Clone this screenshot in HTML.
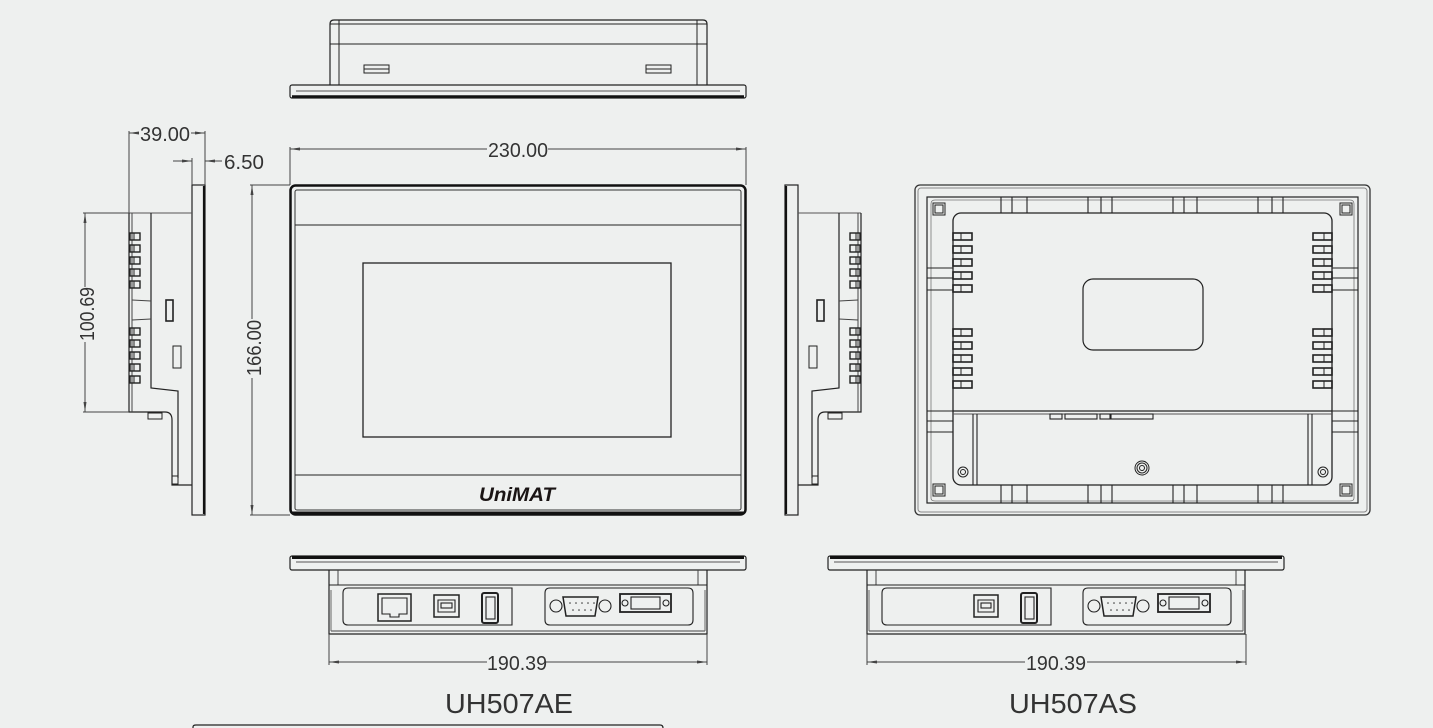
<!DOCTYPE html>
<html><head><meta charset="utf-8"><style>
html,body{margin:0;padding:0;background:#eef0ef;}
svg{display:block;}
text{font-family:"Liberation Sans",sans-serif;fill:#333;}
</style></head><body>
<svg width="1433" height="728" viewBox="0 0 1433 728" xmlns="http://www.w3.org/2000/svg">
<defs>
<marker id="ar" viewBox="0 0 10 6" refX="10" refY="3" markerWidth="10" markerHeight="6" orient="auto-start-reverse" markerUnits="userSpaceOnUse"><path d="M0,1.5 L10,3 L0,4.5z" fill="#444"/></marker>
<g id="vent"><rect x="0" y="0" width="10" height="7" fill="none" stroke="#222" stroke-width="1.4"/><line x1="4" y1="0" x2="4" y2="7" stroke="#222"/></g>
<g id="vent2"><rect x="0" y="0" width="19" height="7" fill="none" stroke="#222" stroke-width="1.6"/><line x1="8" y1="0" x2="8" y2="7" stroke="#222"/></g>
<g id="side">
 <rect x="192" y="185" width="13" height="330" fill="none" stroke="#222" stroke-width="1.2"/>
 <line x1="204" y1="186" x2="204" y2="514" stroke="#111" stroke-width="2.2"/>
 <line x1="129" y1="213" x2="192" y2="213" stroke="#555"/>
 <path d="M129,213 V412 H165 Q172,412 172,420 V485 H192" fill="none" stroke="#222" stroke-width="1.2"/>
 <path d="M151,213 V388 L178,391 V478" fill="none" stroke="#222" stroke-width="1.2"/>
 <line x1="132" y1="213" x2="132" y2="412" stroke="#444"/>
 <line x1="132" y1="300" x2="151" y2="301" stroke="#444"/>
 <line x1="132" y1="320" x2="151" y2="319" stroke="#444"/>
 <use href="#vent" x="130" y="233"/><use href="#vent" x="130" y="245"/><use href="#vent" x="130" y="257"/><use href="#vent" x="130" y="269"/><use href="#vent" x="130" y="281"/>
 <use href="#vent" x="130" y="328"/><use href="#vent" x="130" y="340"/><use href="#vent" x="130" y="352"/><use href="#vent" x="130" y="364"/><use href="#vent" x="130" y="376"/>
 <rect x="166" y="300" width="7" height="21" fill="none" stroke="#222" stroke-width="1.6"/>
 <rect x="173" y="346" width="8" height="22" fill="none" stroke="#222"/>
 <rect x="148" y="413" width="14" height="6" fill="none" stroke="#222"/>
 <rect x="172" y="476" width="6" height="8" fill="none" stroke="#222"/>
</g>
<g id="bot">
 <rect x="290" y="556" width="456" height="14" rx="2" fill="none" stroke="#222" stroke-width="1.2"/>
 <line x1="292" y1="557.5" x2="744" y2="557.5" stroke="#111" stroke-width="3"/>
 <line x1="296" y1="562" x2="740" y2="562" stroke="#555"/>
 <path d="M329,570 V634 H707 V570" fill="none" stroke="#222" stroke-width="1.2"/>
 <line x1="338" y1="570" x2="338" y2="585" stroke="#444"/><line x1="698" y1="570" x2="698" y2="585" stroke="#444"/>
 <line x1="329" y1="585" x2="707" y2="585" stroke="#222"/>
 <line x1="331" y1="631" x2="705" y2="631" stroke="#444"/>
 <line x1="331" y1="590" x2="331" y2="631" stroke="#666"/><line x1="705" y1="590" x2="705" y2="631" stroke="#666"/>
</g>
</defs>

<!-- TOP VIEW -->
<path d="M330,85 V24 Q330,20 334,20 H703 Q707,20 707,24 V85" fill="none" stroke="#222" stroke-width="1.2"/>
<line x1="339" y1="20" x2="339" y2="85" stroke="#222"/><line x1="697" y1="20" x2="697" y2="85" stroke="#222"/>
<line x1="330" y1="24" x2="707" y2="24" stroke="#222"/>
<line x1="330" y1="44" x2="707" y2="44" stroke="#222"/>
<rect x="364" y="65" width="25" height="8" fill="none" stroke="#222"/><line x1="364" y1="69" x2="389" y2="69" stroke="#222"/>
<rect x="646" y="65" width="25" height="8" fill="none" stroke="#222"/><line x1="646" y1="69" x2="671" y2="69" stroke="#222"/>
<rect x="290" y="85" width="456" height="13" rx="2" fill="none" stroke="#222" stroke-width="1.2"/>
<line x1="296" y1="91" x2="740" y2="91" stroke="#555"/>
<line x1="292" y1="96.5" x2="744" y2="96.5" stroke="#111" stroke-width="2.5"/>

<!-- LEFT SIDE VIEW -->
<use href="#side"/>
<line x1="129" y1="131" x2="129" y2="213" stroke="#444"/>
<line x1="205" y1="131" x2="205" y2="185" stroke="#444"/>
<line x1="192" y1="158" x2="192" y2="185" stroke="#444"/>
<line x1="129" y1="133" x2="139" y2="133" stroke="#444" marker-start="url(#ar)"/>
<line x1="191" y1="133" x2="205" y2="133" stroke="#444" marker-end="url(#ar)"/>
<text x="165" y="141" font-size="20" text-anchor="middle" textLength="50" lengthAdjust="spacingAndGlyphs">39.00</text>
<line x1="173" y1="161" x2="192" y2="161" stroke="#444" marker-end="url(#ar)"/>
<line x1="222" y1="161" x2="205" y2="161" stroke="#444" marker-end="url(#ar)"/>
<text x="224" y="169" font-size="20" textLength="40" lengthAdjust="spacingAndGlyphs">6.50</text>
<line x1="83" y1="213" x2="129" y2="213" stroke="#444"/><line x1="83" y1="412" x2="129" y2="412" stroke="#444"/>
<line x1="85" y1="213" x2="85" y2="287" stroke="#444" marker-start="url(#ar)"/>
<line x1="85" y1="342" x2="85" y2="412" stroke="#444" marker-end="url(#ar)"/>
<text transform="translate(94,314) rotate(-90)" font-size="20" text-anchor="middle" textLength="54" lengthAdjust="spacingAndGlyphs">100.69</text>
<line x1="250" y1="185" x2="290" y2="185" stroke="#444"/><line x1="250" y1="515" x2="290" y2="515" stroke="#444"/>
<line x1="252" y1="185" x2="252" y2="319" stroke="#444" marker-start="url(#ar)"/>
<line x1="252" y1="378" x2="252" y2="515" stroke="#444" marker-end="url(#ar)"/>
<text transform="translate(261,348) rotate(-90)" font-size="20" text-anchor="middle" textLength="56" lengthAdjust="spacingAndGlyphs">166.00</text>
<line x1="290" y1="147" x2="290" y2="185" stroke="#444"/><line x1="746" y1="147" x2="746" y2="185" stroke="#444"/>
<line x1="290" y1="149" x2="487" y2="149" stroke="#444" marker-start="url(#ar)"/>
<line x1="548" y1="149" x2="746" y2="149" stroke="#444" marker-end="url(#ar)"/>
<text x="518" y="157" font-size="20" text-anchor="middle" textLength="60" lengthAdjust="spacingAndGlyphs">230.00</text>

<!-- FRONT -->
<rect x="290.5" y="185.5" width="455" height="329" rx="5" fill="none" stroke="#111" stroke-width="2.5"/>
<rect x="295" y="190" width="446" height="320" rx="2" fill="none" stroke="#333"/>
<line x1="295" y1="225" x2="741" y2="225" stroke="#222"/>
<line x1="295" y1="475" x2="741" y2="475" stroke="#222"/>
<line x1="292" y1="513" x2="744" y2="513" stroke="#111" stroke-width="3"/>
<rect x="363" y="263" width="308" height="174" fill="none" stroke="#222" stroke-width="1.3"/>
<text x="517" y="501" font-size="19" font-weight="bold" font-style="italic" text-anchor="middle" style="fill:#1a1414" textLength="76" lengthAdjust="spacingAndGlyphs">UniMAT</text>

<!-- RIGHT SIDE VIEW -->
<g transform="translate(990,0) scale(-1,1)"><use href="#side"/></g>

<!-- REAR -->
<rect x="915" y="185" width="455" height="330" rx="5" fill="none" stroke="#333" stroke-width="1.3"/>
<rect x="918" y="188" width="449" height="324" rx="3" fill="none" stroke="#888"/>
<rect x="927" y="197" width="431" height="306" fill="none" stroke="#222" stroke-width="1.2"/>
<rect x="953" y="213" width="379" height="272" rx="8" fill="none" stroke="#222" stroke-width="1.3"/>
<path d="M931,215 V204 Q931,200 935,200 H1350 Q1354,200 1354,204 V498 Q1354,501 1350,501 H935 Q931,501 931,498 Z" fill="none" stroke="#777" stroke-width="0.8"/>
<line x1="953" y1="411" x2="1332" y2="411" stroke="#222" stroke-width="1.2"/>
<line x1="953" y1="414" x2="1332" y2="414" stroke="#555"/>
<rect x="1083" y="279" width="120" height="71" rx="10" fill="none" stroke="#222" stroke-width="1.2"/>
<g fill="none" stroke="#222">
<rect x="933" y="203" width="12" height="12"/><rect x="935" y="205" width="8" height="8"/>
<rect x="1340" y="203" width="12" height="12"/><rect x="1342" y="205" width="8" height="8"/>
<rect x="933" y="484" width="12" height="12"/><rect x="935" y="486" width="8" height="8"/>
<rect x="1340" y="484" width="12" height="12"/><rect x="1342" y="486" width="8" height="8"/>
<circle cx="963" cy="472" r="5"/><circle cx="963" cy="472" r="2.5"/>
<circle cx="1323" cy="472" r="5"/><circle cx="1323" cy="472" r="2.5"/>
<circle cx="1142" cy="468" r="7"/><circle cx="1142" cy="468" r="5"/><circle cx="1142" cy="468" r="2.5"/>
</g>
<g stroke="#222" stroke-width="1.1">
<path d="M1001,197V213M1012,197V213M1027,197V213M1088,197V213M1101,197V213M1112,197V213M1173,197V213M1184,197V213M1197,197V213M1258,197V213M1272,197V213M1283,197V213"/>
<path d="M1001,485V503M1012,485V503M1027,485V503M1088,485V503M1101,485V503M1112,485V503M1173,485V503M1184,485V503M1197,485V503M1258,485V503M1272,485V503M1283,485V503"/>
<path d="M927,268H953M927,278H953M927,290H953M927,411H953M927,421H953M927,432H953"/>
<path d="M1332,268H1358M1332,278H1358M1332,290H1358M1332,411H1358M1332,421H1358M1332,432H1358"/>
<path d="M973,414V485M977,414V485M1308,414V485M1312,414V485"/>
</g>
<g fill="none" stroke="#222" stroke-width="1.1">
<rect x="1050" y="414" width="12" height="5"/><rect x="1065" y="414" width="32" height="5"/><rect x="1100" y="414" width="10" height="5"/><rect x="1111" y="414" width="42" height="5"/>
</g>
<use href="#vent2" x="953" y="233"/><use href="#vent2" x="953" y="246"/><use href="#vent2" x="953" y="259"/><use href="#vent2" x="953" y="272"/><use href="#vent2" x="953" y="285"/>
<use href="#vent2" x="953" y="329"/><use href="#vent2" x="953" y="342"/><use href="#vent2" x="953" y="355"/><use href="#vent2" x="953" y="368"/><use href="#vent2" x="953" y="381"/>
<g transform="translate(2285,0) scale(-1,1)">
<use href="#vent2" x="953" y="233"/><use href="#vent2" x="953" y="246"/><use href="#vent2" x="953" y="259"/><use href="#vent2" x="953" y="272"/><use href="#vent2" x="953" y="285"/>
<use href="#vent2" x="953" y="329"/><use href="#vent2" x="953" y="342"/><use href="#vent2" x="953" y="355"/><use href="#vent2" x="953" y="368"/><use href="#vent2" x="953" y="381"/>
</g>

<!-- BOTTOM VIEW AE -->
<use href="#bot"/>
<g fill="none" stroke="#222" stroke-width="1.1">
<path d="M348,588 H512 V625 H348 Q343,625 343,620 V593 Q343,588 348,588Z"/>
<path d="M550,588 H688 Q693,588 693,593 V620 Q693,625 688,625 H550 Q545,625 545,620 V593 Q545,588 550,588Z"/>
<rect x="378" y="594" width="33" height="27" stroke-width="1.5"/>
<path d="M382,598 H407 V614 H399 V617 H390 V614 H382Z"/>
<rect x="434" y="595" width="25" height="22" stroke-width="1.5"/>
<path d="M438,600 H455 V612 H438Z"/><rect x="441" y="603" width="11" height="5"/>
<rect x="482" y="593" width="16" height="30" rx="2" stroke-width="2"/>
<rect x="486" y="597" width="9" height="22"/>
<ellipse cx="556" cy="606" rx="6" ry="6"/><ellipse cx="605" cy="606" rx="6" ry="6"/>
<path d="M563,597 H598 L595,616 H566Z" stroke-width="1.5"/>
<rect x="620" y="594" width="51" height="18" stroke-width="1.8"/>
<rect x="631" y="597" width="29" height="12"/>
<circle cx="625" cy="603" r="3"/><circle cx="666" cy="603" r="3"/>
</g>
<g fill="#333"><circle cx="570" cy="603" r="0.8"/><circle cx="576" cy="603" r="0.8"/><circle cx="582" cy="603" r="0.8"/><circle cx="588" cy="603" r="0.8"/><circle cx="594" cy="603" r="0.8"/><circle cx="573" cy="610" r="0.8"/><circle cx="579" cy="610" r="0.8"/><circle cx="585" cy="610" r="0.8"/><circle cx="591" cy="610" r="0.8"/></g>
<line x1="329" y1="634" x2="329" y2="665" stroke="#444"/><line x1="707" y1="634" x2="707" y2="665" stroke="#444"/>
<line x1="329" y1="662" x2="487" y2="662" stroke="#444" marker-start="url(#ar)"/>
<line x1="546" y1="662" x2="707" y2="662" stroke="#444" marker-end="url(#ar)"/>
<text x="517" y="670" font-size="20" text-anchor="middle" textLength="60" lengthAdjust="spacingAndGlyphs">190.39</text>
<text x="509" y="713" font-size="28" text-anchor="middle" textLength="128" lengthAdjust="spacingAndGlyphs">UH507AE</text>

<!-- BOTTOM VIEW AS -->
<use href="#bot" transform="translate(538,0)"/>
<g fill="none" stroke="#222" stroke-width="1.1">
<path d="M887,588 H1051 V625 H887 Q882,625 882,620 V593 Q882,588 887,588Z"/>
<path d="M1088,588 H1226 Q1231,588 1231,593 V620 Q1231,625 1226,625 H1088 Q1083,625 1083,620 V593 Q1083,588 1088,588Z"/>
<rect x="974" y="595" width="24" height="22" stroke-width="1.5"/>
<path d="M978,600 H994 V612 H978Z"/><rect x="981" y="603" width="10" height="5"/>
<rect x="1021" y="593" width="16" height="30" rx="2" stroke-width="2"/>
<rect x="1025" y="597" width="9" height="22"/>
<ellipse cx="1094" cy="606" rx="6" ry="6"/><ellipse cx="1143" cy="606" rx="6" ry="6"/>
<path d="M1101,597 H1136 L1133,616 H1104Z" stroke-width="1.5"/>
<rect x="1158" y="594" width="52" height="18" stroke-width="1.8"/>
<rect x="1169" y="597" width="30" height="12"/>
<circle cx="1163" cy="603" r="3"/><circle cx="1205" cy="603" r="3"/>
</g>
<g fill="#333"><circle cx="1108" cy="603" r="0.8"/><circle cx="1114" cy="603" r="0.8"/><circle cx="1120" cy="603" r="0.8"/><circle cx="1126" cy="603" r="0.8"/><circle cx="1132" cy="603" r="0.8"/><circle cx="1111" cy="610" r="0.8"/><circle cx="1117" cy="610" r="0.8"/><circle cx="1123" cy="610" r="0.8"/><circle cx="1129" cy="610" r="0.8"/></g>
<line x1="867" y1="634" x2="867" y2="665" stroke="#444"/><line x1="1246" y1="634" x2="1246" y2="665" stroke="#444"/>
<line x1="867" y1="662" x2="1025" y2="662" stroke="#444" marker-start="url(#ar)"/>
<line x1="1087" y1="662" x2="1246" y2="662" stroke="#444" marker-end="url(#ar)"/>
<text x="1056" y="670" font-size="20" text-anchor="middle" textLength="60" lengthAdjust="spacingAndGlyphs">190.39</text>
<text x="1073" y="713" font-size="28" text-anchor="middle" textLength="128" lengthAdjust="spacingAndGlyphs">UH507AS</text>

<path d="M193,728 V727 Q193,725 196,725 H660 Q663,725 663,728" fill="none" stroke="#222" stroke-width="1.2"/>
</svg>
</body></html>
